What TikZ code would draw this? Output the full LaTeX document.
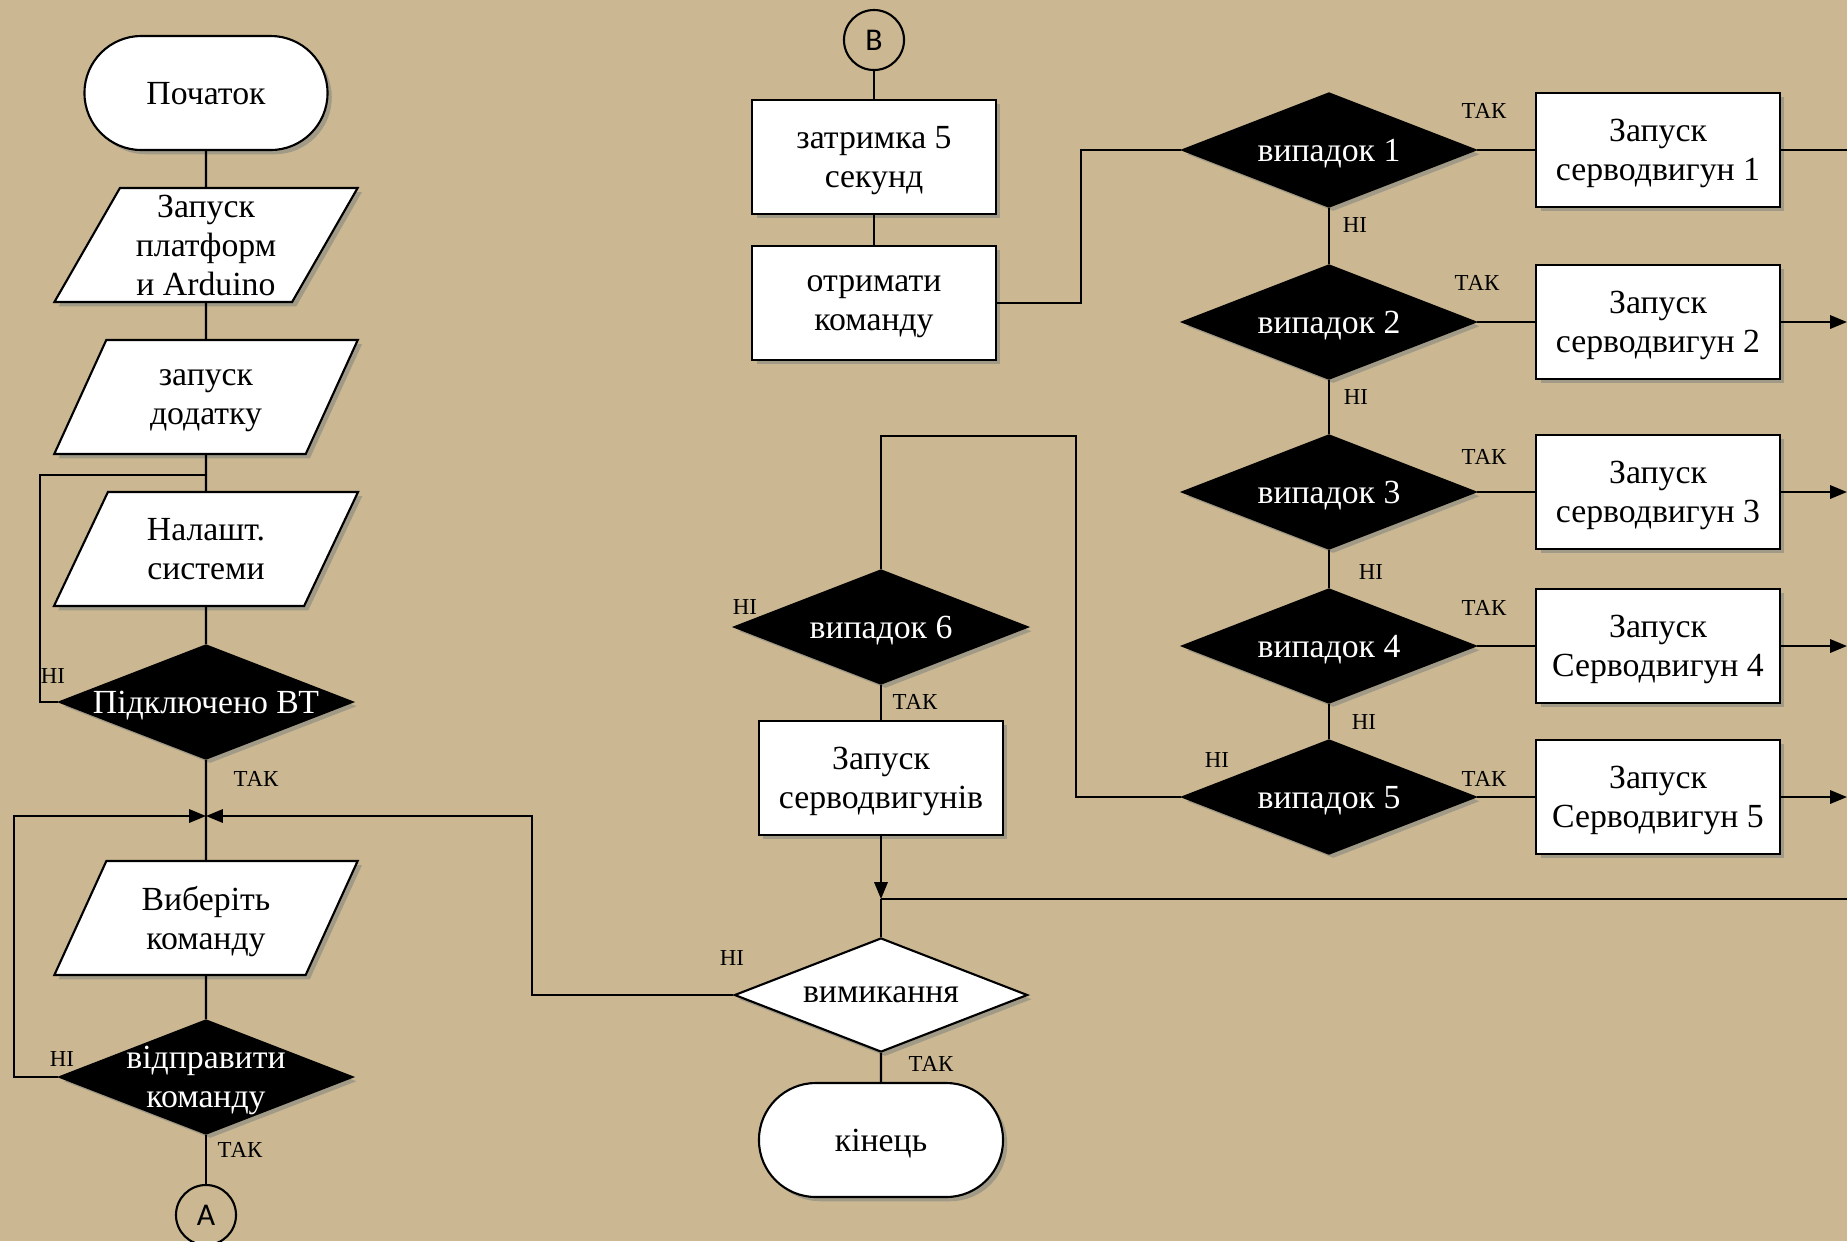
\documentclass[tikz,border=0pt]{standalone}
\usepackage{fontspec}
\setmainfont{Liberation Serif}
\newfontfamily\connfont{Carlito}
\usetikzlibrary{positioning, arrows.meta, shapes.geometric, shapes.misc, shadows}
\definecolor{paper}{RGB}{203,184,146}
\definecolor{shade}{RGB}{110,118,120}

\begin{document}
\begin{tikzpicture}[x=0.01cm, y=-0.01cm, line width=0.6pt,
    >={Triangle[length=4.8pt,width=3.8pt]},
    font=\fontsize{9.6}{11.1}\selectfont,
    base/.style={draw, fill=white, inner sep=0pt, align=center, text depth=0pt,
        drop shadow={shadow xshift=1.2pt, shadow yshift=-1.2pt, fill=shade, opacity=0.45}},
    term/.style={base, rounded rectangle, minimum width=2.43cm, minimum height=1.14cm},
    io/.style={base, trapezium, trapezium left angle=62, trapezium right angle=118,
        trapezium stretches=true, minimum width=3.04cm, minimum height=1.14cm},
    proc/.style={base, rectangle, minimum width=2.43cm, minimum height=1.14cm},
    decision/.style={base, diamond, fill=black, minimum width=2.93cm, minimum height=1.14cm},
    dtext/.style={text=white, align=center, text depth=0pt},
    conn/.style={draw, circle, minimum size=0.6cm, inner sep=0pt,
        font=\connfont\fontsize{9}{10}\selectfont},
    yes/.style={font=\fontsize{6.5}{7.5}\selectfont, inner sep=0pt}]

    % --- Background ---
    \useasboundingbox (0,0) rectangle (1847,1241);
    \fill[paper] (0,0) rectangle (1847,1241);

    % --- Start / setup column ---
    \node[term] (start) at (206,93) {Початок};
    \node[io] (boot) at (206,245) {Запуск\\платформ\\и Arduino};
    \node[io] (app) at (206,397) {запуск\\додатку};
    \node[io] (setup) at (206,549) {Налашт.\\системи};
    \node[decision, label={[dtext]center:Підключено ВТ}] (bt) at (206,702) {};
    \node[io] (pick) at (206,918) {Виберіть\\команду};
    \node[decision, label={[dtext]center:відправити\\команду}] (send) at (206,1077) {};
    \node[conn] (A) at (206,1215) {A};

    % --- Receive / shutdown column ---
    \node[conn] (B) at (874,40) {B};
    \node[proc] (delay) at (874,157) {затримка 5\\секунд};
    \node[proc] (recv) at (874,303) {отримати\\команду};
    \node[decision, label={[dtext]center:випадок 6}] (c6) at (881,627) {};
    \node[proc, minimum width=2.44cm] (servo) at (881,778) {Запуск\\серводвигунів};
    \node[decision, fill=white, label={[text depth=0pt]center:вимикання}] (off) at (881,995) {};
    \node[term, minimum width=2.44cm] (end) at (881,1140) {кінець};

    % --- Cases 1..5 ---
    % \y, \n, \txt
    \foreach \y/\n/\txt in {
        150/1/серводвигун 1,
        322/2/серводвигун 2,
        492/3/серводвигун 3,
        646/4/Серводвигун 4,
        797/5/Серводвигун 5%
    } {
        \node[decision, label={[dtext]center:випадок \n}] (c\n) at (1329,\y) {};
        \node[proc] (s\n) at (1658,\y) {Запуск\\\txt};
        \draw (c\n) -- (s\n);
    }

    % --- Helper points ---
    \coordinate (rim) at (1847,0);
    \coordinate (merge) at (206,475);
    \coordinate (btloop) at (40,475);
    \coordinate (jn) at (206,816);
    \coordinate (sendloop) at (14,816);
    \coordinate (offloop) at (532,816);
    \coordinate (recvloop) at (1081,150);
    \coordinate (c5loop) at (1076,436);
    \coordinate (mrg) at (881,899);

    % --- Left connections ---
    \draw (start) -- (boot);
    \draw (boot) -- (app);
    \draw (app) -- (setup);
    \draw (setup) -- (bt);
    \draw (bt.west) -| (btloop) -- (merge); % NO -> back to setup
    \draw (bt) -- (jn) -- (pick);
    \draw (pick) -- (send);
    \draw[->] (send.west) -| (sendloop) -- (jn); % NO -> choose again
    \draw (send) -- (A);

    % --- Middle connections ---
    \draw (B) -- (delay);
    \draw (delay) -- (recv);
    \draw (recv.east) -| (recvloop) -- (c1.west);
    \draw (c5.west) -| (c5loop) -| (c6.north); % NO -> case 6
    \draw (c6) -- (servo);
    \draw[->] (servo) -- (mrg);
    \draw (mrg) -- (off);
    \draw (mrg) -- (mrg -| rim);
    \draw[->] (off.west) -| (offloop) -- (jn); % NO -> choose command
    \draw (off) -- (end);

    % --- Right connections ---
    \foreach \a/\b in {1/2, 2/3, 3/4, 4/5}
        \draw (c\a) -- (c\b);
    \draw (s1.east) -- (s1.east -| rim);
    \foreach \n in {2,...,5}
        \draw[->] (s\n.east) -- (s\n.east -| rim);

    % --- Branch labels ---
    \foreach \x/\y [count=\i] in {256/779, 240/1150, 915/702, 931/1064,
        1484/111, 1477/283, 1484/457, 1484/608, 1484/779}
        \node[yes] (tak\i) at (\x,\y) {ТАК};
    \foreach \x/\y [count=\i] in {53/676, 62/1059, 745/607, 732/958,
        1355/225, 1356/397, 1371/572, 1364/722, 1217/760}
        \node[yes] (ni\i) at (\x,\y) {НІ};

\end{tikzpicture}
\end{document}
